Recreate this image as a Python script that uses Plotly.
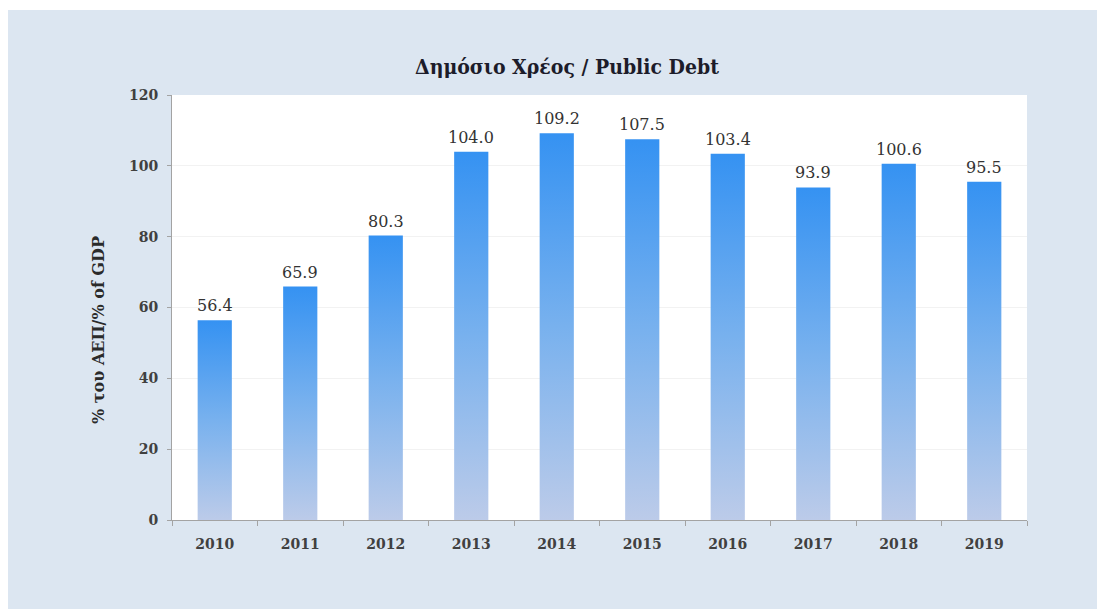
import plotly.graph_objects as go

years = ["2010", "2011", "2012", "2013", "2014", "2015", "2016", "2017", "2018", "2019"]
debt = [56.4, 65.9, 80.3, 104.0, 109.2, 107.5, 103.4, 93.9, 100.6, 95.5]
y_ticks = [0, 20, 40, 60, 80, 100, 120]

title_text = "Δημόσιο Χρέος / Public Debt"
y_title = "% του ΑΕΠ/% of GDP"

# page body has an 8px margin, so the figure starts at (8, 8)
W, H = 1097, 601
L, R, T, B = 164, 78, 87, 89
pw, ph = W - L - R, H - T - B

panel = "#dce6f1"
bar_top = "#3592f2"
bar_mid = "#78b1ee"
bar_bot = "#bccbe9"
half = 0.2

fig = go.Figure()
for i, v in enumerate(debt):
    fig.add_trace(go.Scatter(
        x=[i - half, i + half, i + half, i - half, i - half],
        y=[0, 0, v, v, 0],
        mode="lines",
        line=dict(width=0, color=bar_top),
        fill="toself",
        fillgradient=dict(type="vertical",
                          colorscale=[[0, bar_bot], [0.5, bar_mid], [1, bar_top]],
                          start=0, stop=v),
        hoverinfo="skip",
        showlegend=False,
    ))

axis_col = "#a3a3a3"
fig.update_xaxes(
    range=[-0.5, len(years) - 0.5],
    tickmode="array",
    tickvals=list(range(len(years))),
    ticktext=years,
    ticks="",
    showgrid=False,
    zeroline=False,
    showline=True,
    linecolor=axis_col,
    linewidth=1,
    tickfont=dict(family="DejaVu Serif", size=14, color="#404040", weight="bold"),
    ticklabelstandoff=11,
    minor=dict(tickvals=[k - 0.5 for k in range(len(years) + 1)],
               ticks="outside", ticklen=5, tickcolor=axis_col, tickwidth=1,
               showgrid=False),
    fixedrange=True,
)
fig.update_yaxes(
    range=[0, 120],
    tickmode="array",
    tickvals=y_ticks,
    ticks="outside",
    ticklen=4,
    tickcolor=axis_col,
    showgrid=True,
    gridcolor="#f2f2f2",
    zeroline=False,
    showline=True,
    linecolor=axis_col,
    linewidth=1,
    tickfont=dict(family="DejaVu Serif", size=14, color="#404040", weight="bold"),
    ticklabelstandoff=6,
    fixedrange=True,
)

shapes = [
    dict(type="rect", xref="paper", yref="paper", layer="below",
         x0=-L / pw - 0.01, x1=(W - L) / pw + 0.01,
         y0=-B / ph - 0.01, y1=(ph + T - 2) / ph,
         fillcolor=panel, line=dict(width=0)),
    dict(type="rect", xref="paper", yref="paper", layer="below",
         x0=0, x1=1, y0=0, y1=1,
         fillcolor="white", line=dict(width=0)),
]

annotations = [
    dict(text=title_text, xref="paper", yref="paper",
         x=(567 - 8 - L) / pw, y=(H - B - (67 - 8)) / ph,
         xanchor="center", yanchor="middle", showarrow=False,
         font=dict(family="DejaVu Serif Condensed", size=21, color="#1c1c2a", weight="bold")),
    dict(text=y_title, xref="paper", yref="paper",
         x=(98 - 8 - L) / pw, y=(H - B - (330 - 8)) / ph,
         xanchor="center", yanchor="middle", showarrow=False, textangle=-90,
         font=dict(family="DejaVu Serif", size=16, color="#2a2a2a", weight="bold")),
]
for i, v in enumerate(debt):
    annotations.append(dict(
        text=f"{v:.1f}", x=i, y=v, xref="x", yref="y",
        xanchor="center", yanchor="bottom", yshift=3, showarrow=False,
        font=dict(family="DejaVu Serif", size=16, color="#333333"),
    ))

fig.update_layout(
    width=W, height=H,
    margin=dict(l=L, r=R, t=T, b=B, pad=0),
    paper_bgcolor="white",
    plot_bgcolor="rgba(0,0,0,0)",
    shapes=shapes,
    annotations=annotations,
    showlegend=False,
)

fig.write_html("out.html", config={"displayModeBar": False})
